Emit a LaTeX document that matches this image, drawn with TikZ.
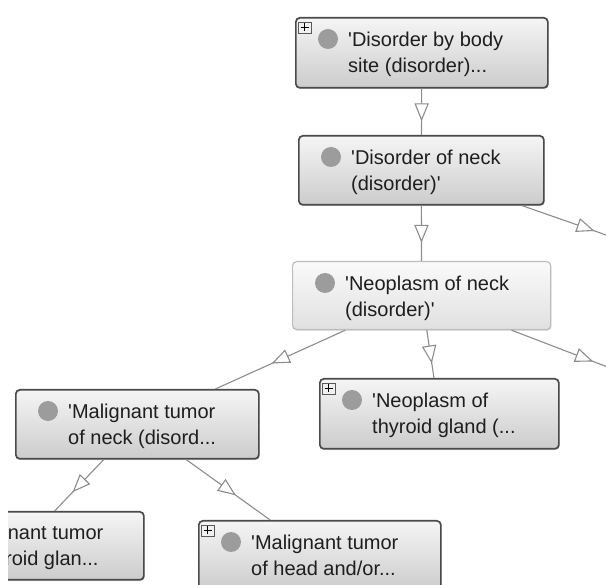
\documentclass[tikz,border=0pt]{standalone}
\usepackage{fontspec}
\newfontfamily\lbfont{Liberation Sans}
\usetikzlibrary{decorations.markings,shadows}
\definecolor{edgegray}{HTML}{8C8C8C}
\definecolor{boxborder}{HTML}{4A4A4A}
\definecolor{selborder}{HTML}{BDBDBD}
\definecolor{dotgray}{HTML}{9C9C9C}
\definecolor{txt}{HTML}{1E1E1E}
\tikzset{
 box/.style={draw=boxborder, line width=1.7pt, rounded corners=4pt,
   top color=white!96!black, bottom color=white!80!black,
   anchor=north west, inner sep=0pt,
   drop shadow={shadow xshift=1pt,shadow yshift=-1.2pt,opacity=0.25}},
 selbox/.style={box, draw=selborder, line width=1.2pt,
   top color=white!98!black, bottom color=white!88!black},
 lbl/.style={anchor=base west, inner sep=0pt,
   font=\lbfont\fontsize{20pt}{24pt}\selectfont, text=txt},
 edge/.style={draw=edgegray, line width=1.1pt, postaction={decorate},
   decoration={markings, mark=at position 0.5 with {\filldraw[draw=edgegray, fill=white, line width=1.1pt, line join=miter] (-8pt,6.5pt) -- (8pt,0pt) -- (-8pt,-6.5pt) -- cycle;}}},
 plusframe/.style={draw=gray!70!black, fill=white!94!black, line width=0.6pt, rounded corners=0pt},
 plussign/.style={black, line width=1.4pt},
}
\newcommand\plusicon[1]{%
 \draw[plusframe] ([xshift=3pt,yshift=-5pt]#1.north west) rectangle ++(13pt,-11pt);
 \draw[plussign] ([xshift=5.5pt,yshift=-10.5pt]#1.north west) -- ++(8pt,0pt);
 \draw[plussign] ([xshift=9.5pt,yshift=-6.5pt]#1.north west) -- ++(0pt,-8pt);}
\newcommand\graydot[1]{%
 \fill[dotgray] ([xshift=33pt,yshift=-22pt]#1.north west) circle (10pt);}
\newcommand\boxtext[3]{%
 \node[lbl] (#1a) at ([xshift=53pt,yshift=-30pt]#1.north west) {#2};
 \node[lbl] (#1b) at ([xshift=53pt,yshift=-55.5pt]#1.north west) {#3};}
\begin{document}
\begin{tikzpicture}[x=1pt,y=-1pt]
\useasboundingbox (0,0) rectangle (606,585);
\clip (8,0) rectangle (606,585);
% boxes
\node[box, minimum width=252pt, minimum height=70pt] (b1) at (295,17) {};
\node[box, minimum width=245pt, minimum height=69pt] (b2) at (298,135) {};
\node[selbox, minimum width=258pt, minimum height=68pt] (b3) at (292,261) {};
\node[box, minimum width=243pt, minimum height=69pt] (b4) at (15,389) {};
\node[box, minimum width=239pt, minimum height=70pt] (b7) at (319,378) {};
\node[box, minimum width=245pt, minimum height=68pt] (b5) at (-102,511) {};
\node[box, minimum width=242pt, minimum height=70pt] (b6) at (198,520) {};
% off-screen ends
\coordinate (o2) at (649,250);
\coordinate (o3) at (657,386);
% edges
\draw[edge] (b1) -- (b2);
\draw[edge] (b2) -- (b3);
\draw[edge] (b2) -- (o2);
\draw[edge] (b3) -- (b4);
\draw[edge] (b3) -- (b7);
\draw[edge] (b3) -- (o3);
\draw[edge] (b4) -- (b5);
\draw[edge] (b4) -- (b6);
% decorations
\plusicon{b1}\plusicon{b7}\plusicon{b6}
\graydot{b1}\graydot{b2}\graydot{b3}\graydot{b4}\graydot{b7}\graydot{b6}
% texts
\boxtext{b1}{\textquotesingle Disorder by body}{site (disorder)...}
\boxtext{b2}{\textquotesingle Disorder of neck}{(disorder)\textquotesingle}
\boxtext{b3}{\textquotesingle Neoplasm of neck}{(disorder)\textquotesingle}
\boxtext{b4}{\textquotesingle Malignant tumor}{of neck (disord...}
\boxtext{b7}{\textquotesingle Neoplasm of}{thyroid gland (...}
\node[lbl] (b5a) at ([xshift=58pt,yshift=-29pt]b5.north west) {\textquotesingle Malignant tumor};
\node[lbl] (b5b) at ([xshift=58pt,yshift=-54.5pt]b5.north west) {of thyroid glan...};
\boxtext{b6}{\textquotesingle Malignant tumor}{of head and/or...}
\end{tikzpicture}
\end{document}
